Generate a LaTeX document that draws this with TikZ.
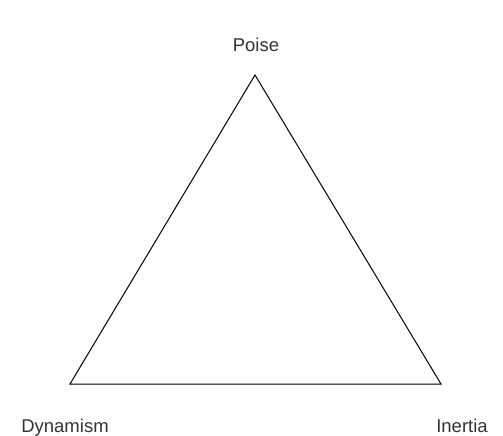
\documentclass[tikz,border=0pt]{standalone}
\usepackage{fontspec}
\setmainfont{Liberation Sans}
\begin{document}
\begin{tikzpicture}[x=1pt,y=-1pt,
  lbl/.style={font=\fontsize{18.5}{22}\selectfont, text=black!80, inner sep=0pt, anchor=base},
  edge/.style={draw=black, line width=1pt}]
\useasboundingbox (0,0) rectangle (503,436);
\coordinate (top) at (255,75);
\coordinate (bl) at (70,384);
\coordinate (br) at (441,384);
\draw[edge, line join=miter] (top) -- (br) -- (bl) -- cycle;
\node[lbl] (poise) at (256,52) {Poise};
\node[lbl] (dyn) at (65,432) {Dynamism};
\node[lbl] (inertia) at (462,432) {Inertia};
\end{tikzpicture}
\end{document}
